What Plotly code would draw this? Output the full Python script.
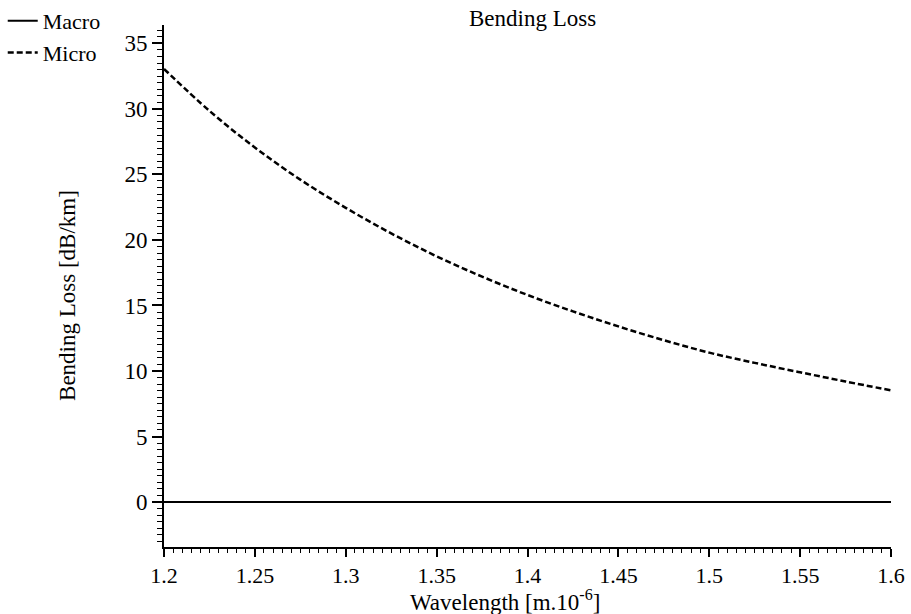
import plotly.graph_objects as go

wavelength = [1.2, 1.225, 1.25, 1.275, 1.3, 1.325, 1.35, 1.375, 1.4,
              1.425, 1.45, 1.475, 1.5, 1.525, 1.55, 1.575, 1.6]
micro_loss = [33.05, 29.85, 27.05, 24.6, 22.45, 20.5, 18.75, 17.2, 15.8,
              14.55, 13.4, 12.35, 11.4, 10.62, 9.9, 9.2, 8.52]
macro_loss = [0.0] * len(wavelength)

x_ticks = [1.2, 1.25, 1.3, 1.35, 1.4, 1.45, 1.5, 1.55, 1.6]
x_ticktext = ["1.2", "1.25", "1.3", "1.35", "1.4", "1.45", "1.5", "1.55", "1.6"]
y_ticks = [0, 5, 10, 15, 20, 25, 30, 35]

FONT = "Liberation Serif"

fig = go.Figure()
fig.add_trace(go.Scatter(x=wavelength, y=macro_loss, mode="lines", name="Macro",
                         line=dict(color="black", width=2)))
fig.add_trace(go.Scatter(x=wavelength, y=micro_loss, mode="lines", name="Micro",
                         line=dict(color="black", width=2.5, dash="6px,3px", shape="spline")))

fig.update_layout(
    width=911, height=614,
    margin=dict(l=164, r=20, t=25, b=67, autoexpand=False),
    paper_bgcolor="white", plot_bgcolor="white",
    font=dict(family=FONT, size=23, color="black"),
    title=dict(text="Bending Loss", x=0.507, xref="paper", y=0.984, yref="container",
               yanchor="top", font=dict(family=FONT, size=23, color="black")),
    showlegend=True,
    legend=dict(x=0.003, y=1.0, xref="container", yref="container",
                xanchor="left", yanchor="top",
                bgcolor="rgba(0,0,0,0)", font=dict(family=FONT, size=22),
                tracegroupgap=0, itemwidth=30),
    xaxis=dict(range=[1.2, 1.6], tickmode="array", tickvals=x_ticks, ticktext=x_ticktext,
               showgrid=False, zeroline=False, showline=True, linecolor="black", linewidth=2,
               ticks="outside", ticklen=8, tickwidth=1.5, tickcolor="black",
               tickfont=dict(family=FONT, size=22), automargin=False,
               minor=dict(dtick=0.005, ticks="outside", ticklen=4, tickwidth=1, tickcolor="black",
                          showgrid=False)),
    yaxis=dict(range=[-3.43, 36.4], tickmode="array", tickvals=y_ticks,
               showgrid=False, zeroline=False, showline=True, linecolor="black", linewidth=2,
               ticks="outside", ticklen=10, tickwidth=1.5, tickcolor="black",
               tickfont=dict(family=FONT, size=23), automargin=False,
               minor=dict(dtick=0.5, ticks="outside", ticklen=5, tickwidth=1, tickcolor="black",
                          showgrid=False)),
    annotations=[
        dict(text="Bending Loss [dB/km]", xref="paper", yref="paper",
             x=-0.132, y=0.481, xanchor="center", yanchor="middle",
             textangle=-90, showarrow=False,
             font=dict(family=FONT, size=23)),
        dict(text="Wavelength [m.10<sup>-6</sup>]", xref="paper", yref="paper",
             x=0.469, y=-0.071, xanchor="center", yanchor="top", showarrow=False,
             font=dict(family=FONT, size=23)),
    ],
)

fig.write_html("out.html", config={"displayModeBar": False},
               post_script="document.body.style.margin='0px';document.body.style.padding='0px';")
